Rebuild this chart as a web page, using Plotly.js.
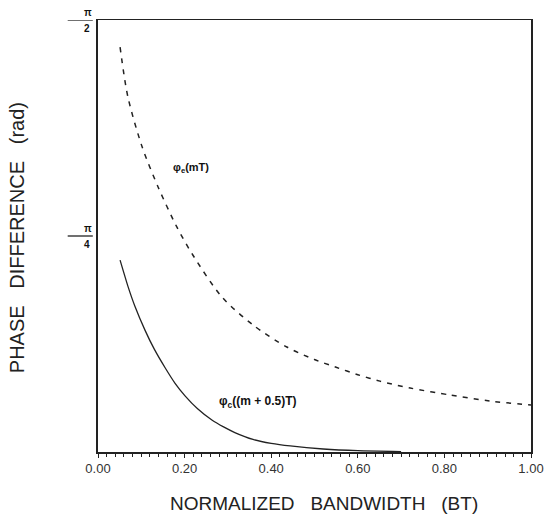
<!DOCTYPE html>
<html>
<head>
<meta charset="utf-8">
<script src="https://cdn.plot.ly/plotly-3.0.1.min.js"></script>
<style>html,body{margin:0;padding:0;background:#fff;}#chart{width:544px;height:516px;}</style>
</head>
<body>
<div id="chart"></div>
<script>
// Data (y values in units of pi/2, converted to rad below)
var bwDashed = [0.051, 0.069, 0.102, 0.139, 0.182, 0.219, 0.286, 0.358, 0.436, 0.50, 0.55, 0.60, 0.651, 0.721, 0.813, 0.905, 1.00];
var phiE     = [0.937, 0.822, 0.706, 0.613, 0.521, 0.456, 0.359, 0.294, 0.243, 0.214, 0.196, 0.179, 0.164, 0.148, 0.132, 0.118, 0.109];
var bwSolid  = [0.051, 0.069, 0.085, 0.109, 0.130, 0.155, 0.178, 0.201, 0.230, 0.263, 0.290, 0.316, 0.358, 0.400, 0.444, 0.52, 0.60, 0.70];
var phiC     = [0.444, 0.384, 0.338, 0.281, 0.238, 0.195, 0.159, 0.130, 0.100, 0.074, 0.058, 0.045, 0.029, 0.020, 0.014, 0.007, 0.003, 0.001];
var xTicks = [0, 0.2, 0.4, 0.6, 0.8, 1.0];
var xTickText = ['0.00', '0.20', '0.40', '0.60', '0.80', '1.00'];

var H = Math.PI / 2;
function toRad(a){ return a.map(function(v){ return v * H; }); }

var traces = [
  {x: bwDashed, y: toRad(phiE), mode: 'lines', line: {color: '#222', width: 1.5, dash: '5px,6px', shape: 'spline', smoothing: 0.8}, hoverinfo: 'skip'},
  {x: bwSolid, y: toRad(phiC), mode: 'lines', line: {color: '#222', width: 1.3, shape: 'spline', smoothing: 0.6}, hoverinfo: 'skip'}
];

var font = 'Liberation Sans, Arial, sans-serif';
var fracLabels = [{v: Math.PI/4, d: '4'}, {v: Math.PI/2, d: '2'}];
var annotations = [];
var shapes = [];
fracLabels.forEach(function(f){
  annotations.push({xref: 'paper', yref: 'y', x: -0.036, y: f.v, yshift: 8, text: '<b>π</b>', showarrow: false, font: {family: font, size: 10, color: '#111'}});
  annotations.push({xref: 'paper', yref: 'y', x: -0.036, y: f.v, yshift: -8, text: '<b>' + f.d + '</b>', showarrow: false, font: {family: font, size: 10, color: '#111'}});
  shapes.push({type: 'line', xref: 'paper', yref: 'y', x0: -0.07, x1: -0.012, y0: f.v, y1: f.v, line: {color: '#111', width: 1.2}});
});
annotations.push({xref: 'x', yref: 'y', x: 0.215, y: 0.657 * H, text: '<b>φ<sub>e</sub>(mT)</b>', showarrow: false, font: {family: font, size: 11, color: '#111'}});
annotations.push({xref: 'x', yref: 'y', x: 0.37, y: 0.116 * H, text: '<b>φ<sub>c</sub>((m + 0.5)T)</b>', showarrow: false, font: {family: font, size: 12, color: '#111'}});
annotations.push({xref: 'paper', yref: 'paper', x: -0.187, y: 0.495, xanchor: 'center', yanchor: 'middle', textangle: -90, text: 'PHASE   DIFFERENCE   (rad)', showarrow: false, font: {family: font, size: 20, color: '#222'}});
annotations.push({xref: 'paper', yref: 'paper', x: 0.522, y: -0.12, xanchor: 'center', yanchor: 'middle', text: 'NORMALIZED   BANDWIDTH   (BT)', showarrow: false, font: {family: font, size: 19, color: '#222'}});

var layout = {
  width: 544, height: 516,
  margin: {l: 98, r: 13, t: 20, b: 64},
  paper_bgcolor: '#fff', plot_bgcolor: '#fff',
  showlegend: false,
  xaxis: {
    range: [0, 1], tickvals: xTicks, ticktext: xTickText,
    ticks: 'outside', ticklen: 4, tickwidth: 1, tickcolor: '#222',
    minor: {dtick: 0.02, tick0: 0, ticks: 'outside', ticklen: 3, tickcolor: '#222', tickwidth: 1},
    showline: true, linecolor: '#222', linewidth: 1.5, mirror: true,
    showgrid: false, zeroline: false, automargin: false,
    tickfont: {family: font, size: 13, color: '#333'}
  },
  yaxis: {
    range: [0, H], tickvals: [], showticklabels: false,
    showline: true, linecolor: '#222', linewidth: 2, mirror: true,
    showgrid: false, zeroline: false
  },
  annotations: annotations,
  shapes: shapes
};

Plotly.newPlot('chart', traces, layout, {displayModeBar: false, staticPlot: true});
</script>
</body>
</html>
